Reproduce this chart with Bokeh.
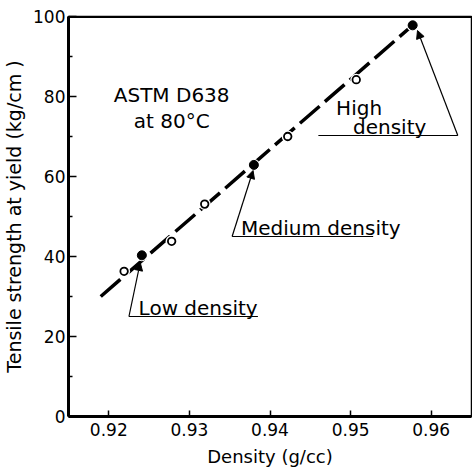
from bokeh.plotting import figure
from bokeh.models import Range1d, FixedTicker, Arrow, NormalHead, Span, ColumnDataSource
from bokeh.core.properties import value
from bokeh.embed import file_html
from bokeh.resources import INLINE

# ---- data ----
x_ticks = [0.92, 0.93, 0.94, 0.95, 0.96]
y_ticks = [0, 20, 40, 60, 80, 100]

open_density = [0.9219, 0.9278, 0.9319, 0.9422, 0.9507]
open_strength = [36.3, 43.8, 53.1, 70.0, 84.2]

filled_density = [0.9241, 0.9380, 0.9577]
filled_strength = [40.3, 62.9, 97.8]

fit_density = [0.919, 0.9577]
fit_strength = [30.0, 97.8]

# annotation labels (y = bottom of text box)
label_texts = ["Low density", "Medium density", "High", "density"]
label_x = [0.9237, 0.9364, 0.9482, 0.9503]
label_y = [24.1, 44.1, 74.1, 69.4]

# underline of each annotation
under_x0 = [0.9225, 0.9353, 0.9460]
under_x1 = [0.9385, 0.9528, 0.9633]
under_y = [25.0, 45.0, 70.25]

# arrows: from the underline end to the filled point
arrow_x0 = [0.9225, 0.9353, 0.9633]
arrow_y0 = [25.0, 45.0, 70.25]
arrow_x1 = [0.9239, 0.9379, 0.9583]
arrow_y1 = [38.5, 61.5, 96.5]

cond_texts = ["ASTM D638", "at 80°C"]
cond_x = [0.9278, 0.9278]
cond_y = [77.3, 70.8]

FONT = "DejaVu Sans"

p = figure(width=472, height=470, output_backend="svg", toolbar_location=None,
           x_range=Range1d(0.915, 0.965), y_range=Range1d(0, 100),
           min_border_left=66, min_border_right=1, min_border_top=16,
           min_border_bottom=54)
p.background_fill_color = "white"
p.border_fill_color = "white"
p.grid.visible = False
p.outline_line_color = "black"
p.outline_line_width = 1.5

# axes
for ax in (p.xaxis[0], p.yaxis[0]):
    ax.axis_line_width = 3
    ax.axis_line_color = "black"
    ax.major_tick_line_width = 1.5
    ax.major_tick_line_color = "black"
    ax.major_tick_out = 0
    ax.minor_tick_out = 0
    ax.major_label_text_font = FONT
    ax.major_label_text_font_size = "17px"
    ax.major_label_text_color = "black"
    ax.axis_label_text_font = FONT
    ax.axis_label_text_font_style = "normal"
    ax.axis_label_text_color = "black"

p.xaxis.ticker = FixedTicker(ticks=x_ticks)
p.xaxis.major_tick_in = 6
p.xaxis.minor_tick_line_color = None
p.xaxis.major_label_standoff = 6
p.xaxis.axis_label = "Density (g/cc)"
p.xaxis.axis_label_text_font_size = "18px"
p.xaxis.axis_label_standoff = 7

p.yaxis.ticker = FixedTicker(ticks=y_ticks, minor_ticks=[10, 30, 50, 70, 90])
p.yaxis.major_tick_in = 8
p.yaxis.minor_tick_in = 4
p.yaxis.minor_tick_line_width = 1.5
p.yaxis.minor_tick_line_color = "black"
p.yaxis.major_label_standoff = 3
p.yaxis.axis_label = "Tensile strength at yield (kg/cm )"
p.yaxis.axis_label_text_font_size = "19px"
p.yaxis.axis_label_standoff = 5

p.add_layout(Span(location=100, dimension="width", line_color="black", line_width=3))

# fitted dashed line
p.line(fit_density, fit_strength, line_color="black", line_width=3.5,
       line_dash="26 7", line_cap="butt")

# open points with white halo to break the line
p.scatter(open_density, open_strength, size=12, marker="circle",
          fill_color="white", line_color=None)
p.scatter(open_density, open_strength, size=7.5, marker="circle",
          fill_color="white", line_color="black", line_width=1.8)
p.scatter(filled_density, filled_strength, size=12, marker="circle",
          fill_color="white", line_color=None)
p.scatter(filled_density, filled_strength, size=9, marker="circle",
          fill_color="black", line_color="black")

# underlines
p.segment(x0=under_x0, y0=under_y, x1=under_x1, y1=under_y,
          line_color="black", line_width=1.2)

# arrows
arrow_src = ColumnDataSource(dict(x0=arrow_x0, y0=arrow_y0, x1=arrow_x1, y1=arrow_y1))
p.add_layout(Arrow(source=arrow_src, x_start="x0", y_start="y0", x_end="x1", y_end="y1",
                   line_color="black", line_width=1.2,
                   end=NormalHead(size=8, fill_color="black", line_color="black", line_width=1)))

# labels
p.text(x=label_x, y=label_y, text=label_texts, text_font=value(FONT),
       text_font_size="20px", text_color="black", text_baseline="bottom",
       text_align="left")
p.text(x=cond_x, y=cond_y, text=cond_texts, text_font=value(FONT),
       text_font_size="20px", text_color="black", text_baseline="bottom",
       text_align="center")

open("out.html", "w").write(file_html(p, INLINE))
